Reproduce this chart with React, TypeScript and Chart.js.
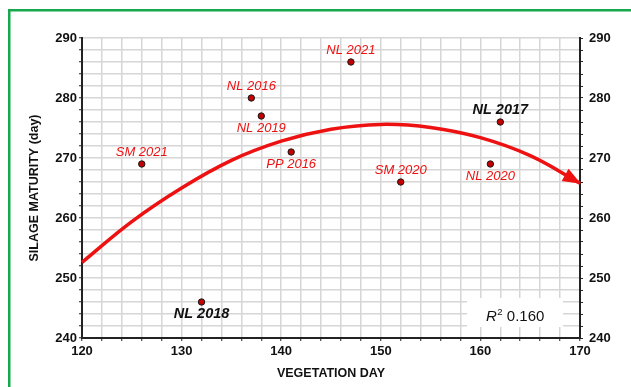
import React, { useEffect, useRef } from 'react';
import { Chart, registerables } from 'chart.js';

Chart.register(...registerables);

// ---- data ----
const pointLabels = ['SM 2021', 'NL 2016', 'NL 2019', 'PP 2016', 'NL 2021', 'SM 2020', 'NL 2020', 'NL 2017', 'NL 2018'];
const vegetationDay = [126, 137, 138, 141, 147, 152, 161, 162, 132];
const silageMaturity = [269, 280, 277, 271, 286, 266, 269, 276, 246];

const trendDay = [120, 125, 130, 135, 140, 145, 150, 155, 160, 165, 170];
const trendMaturity = [252.6, 259.4, 265.0, 269.6, 272.8, 274.8, 275.6, 275.1, 273.4, 270.4, 265.8];

const xTickLabels = [120, 130, 140, 150, 160, 170];
const yTickLabels = [240, 250, 260, 270, 280, 290];
const rSquared = '0.160';

const xTitle = 'VEGETATION DAY';
const yTitle = 'SILAGE MATURITY (day)';

// ---- styles (not data) ----
const labelPlacement = ['above', 'above', 'below', 'below', 'above', 'above', 'below', 'above', 'below'];
const labelEmphasis = [false, false, false, false, false, false, false, true, true];

const FONT = "'Liberation Sans', Arial, Helvetica, sans-serif";
const RED = '#ee1111';

const decorPlugin = {
  id: 'decor',
  beforeDraw(chart: any) {
    const { ctx, width, height } = chart;
    ctx.save();
    ctx.fillStyle = '#ffffff';
    ctx.fillRect(0, 0, width, height);
    ctx.strokeStyle = '#16a84a';
    ctx.lineWidth = 2.5;
    ctx.beginPath();
    ctx.moveTo(9.25, height);
    ctx.lineTo(9.25, 10.25);
    ctx.lineTo(width, 10.25);
    ctx.stroke();
    ctx.restore();
  },
  afterDatasetsDraw(chart: any) {
    const { ctx, chartArea } = chart;
    // arrow head on trend line
    const trendMeta = chart.getDatasetMeta(1);
    const pts = trendMeta.data;
    if (pts.length >= 2) {
      const last = pts[pts.length - 1];
      let dx = last.x - (last.cp1x ?? pts[pts.length - 2].x);
      let dy = last.y - (last.cp1y ?? pts[pts.length - 2].y);
      const len = Math.hypot(dx, dy) || 1;
      dx /= len; dy /= len;
      const L = 18, W = 7;
      const tipX = last.x + dx * 1, tipY = last.y + dy * 1;
      const bx = tipX - dx * L, by = tipY - dy * L;
      ctx.save();
      ctx.fillStyle = RED;
      ctx.beginPath();
      ctx.moveTo(tipX, tipY);
      ctx.lineTo(bx - dy * W, by + dx * W);
      ctx.lineTo(bx + dy * W, by - dx * W);
      ctx.closePath();
      ctx.fill();
      ctx.restore();
    }
    // point labels
    const meta = chart.getDatasetMeta(0);
    ctx.save();
    ctx.textAlign = 'center';
    ctx.textBaseline = 'middle';
    meta.data.forEach((el: any, i: number) => {
      const emph = labelEmphasis[i];
      ctx.font = emph ? `italic bold 14.5px ${FONT}` : `italic 13px ${FONT}`;
      ctx.fillStyle = emph ? '#111111' : RED;
      const off = labelPlacement[i] === 'above' ? -12 : 12;
      ctx.fillText(pointLabels[i], el.x, el.y + off);
    });
    ctx.restore();
    // R² box
    const bx = chartArea.right - 113;
    const by = chartArea.bottom - 40;
    ctx.save();
    ctx.fillStyle = '#ffffff';
    ctx.fillRect(bx, by, 96, 29);
    ctx.fillStyle = '#111111';
    ctx.textBaseline = 'alphabetic';
    ctx.textAlign = 'left';
    let tx = bx + 19;
    const ty = by + 23;
    ctx.font = `italic 15px ${FONT}`;
    ctx.fillText('R', tx, ty);
    tx += ctx.measureText('R').width + 0.5;
    ctx.font = `9.5px ${FONT}`;
    ctx.fillText('2', tx, ty - 6);
    tx += ctx.measureText('2').width;
    ctx.font = `15px ${FONT}`;
    ctx.fillText(' ' + rSquared, tx, ty);
    ctx.restore();
  },
};

export default function App() {
  const ref = useRef<HTMLCanvasElement | null>(null);

  useEffect(() => {
    if (!ref.current) return;
    const tickFont = { family: FONT, size: 13, weight: 'bold' as const };
    const titleFont = { family: FONT, size: 12.5, weight: 'bold' as const };
    const gridColor = '#d6d6d6';
    const axisColor = '#222222';

    const chart = new Chart(ref.current, {
      type: 'scatter',
      data: {
        datasets: [
          {
            label: 'Observations',
            data: vegetationDay.map((x, i) => ({ x, y: silageMaturity[i] })),
            backgroundColor: '#c40000',
            borderColor: '#1a1a1a',
            borderWidth: 1,
            pointRadius: 3.2,
          },
          {
            type: 'line',
            label: 'Trend',
            data: trendDay.map((x, i) => ({ x, y: trendMaturity[i] })),
            borderColor: RED,
            borderWidth: 3.5,
            pointRadius: 0,
            tension: 0.4,
            fill: false,
            clip: false as any,
          } as any,
        ],
      },
      options: {
        animation: false,
        responsive: false,
        events: [],
        layout: { padding: { top: 38, left: 0, right: 0, bottom: 0 } },
        plugins: {
          legend: { display: false },
          tooltip: { enabled: false },
        },
        scales: {
          x: {
            type: 'linear',
            position: 'bottom',
            min: 120,
            max: 170,
            afterFit: (s: any) => { s.height = 49; },
            ticks: {
              stepSize: 2,
              autoSkip: false,
              maxRotation: 0,
              padding: 3,
              color: '#111111',
              font: tickFont,
              callback: (v: any) => (xTickLabels.includes(Number(v)) ? String(v) : ''),
            },
            grid: { color: gridColor, lineWidth: 1.5, tickLength: 3, tickColor: axisColor, tickWidth: 1 },
            border: { display: true, color: axisColor, width: 2 },
            title: { display: true, text: xTitle, color: '#111111', font: titleFont, padding: { top: 0, bottom: 6 } },
          },
          y: {
            type: 'linear',
            position: 'left',
            min: 240,
            max: 290,
            afterFit: (s: any) => { s.width = 82; },
            ticks: {
              stepSize: 2,
              autoSkip: false,
              padding: 2,
              color: '#111111',
              font: tickFont,
              callback: (v: any) => (yTickLabels.includes(Number(v)) ? String(v) : ''),
            },
            grid: { color: gridColor, lineWidth: 1.5, tickLength: 3, tickColor: axisColor, tickWidth: 1 },
            border: { display: true, color: axisColor, width: 2 },
            title: { display: true, text: yTitle, color: '#111111', font: titleFont, padding: { top: 27, bottom: 0 } },
          },
          y2: {
            type: 'linear',
            position: 'right',
            min: 240,
            max: 290,
            afterFit: (s: any) => { s.width = 51; },
            ticks: {
              stepSize: 2,
              autoSkip: false,
              padding: 6,
              color: '#111111',
              font: tickFont,
              callback: (v: any) => (yTickLabels.includes(Number(v)) ? String(v) : ''),
            },
            grid: { drawOnChartArea: false, tickLength: 3, tickColor: axisColor, tickWidth: 1 },
            border: { display: true, color: axisColor, width: 2 },
          },
        },
      },
      plugins: [decorPlugin],
    });
    return () => chart.destroy();
  }, []);

  return (
    <div style={{ position: 'absolute', left: 0, top: 0, width: 631, height: 387, background: '#fff' }}>
      <canvas ref={ref} width={631} height={387} style={{ display: 'block', width: 631, height: 387 }} />
    </div>
  );
}
